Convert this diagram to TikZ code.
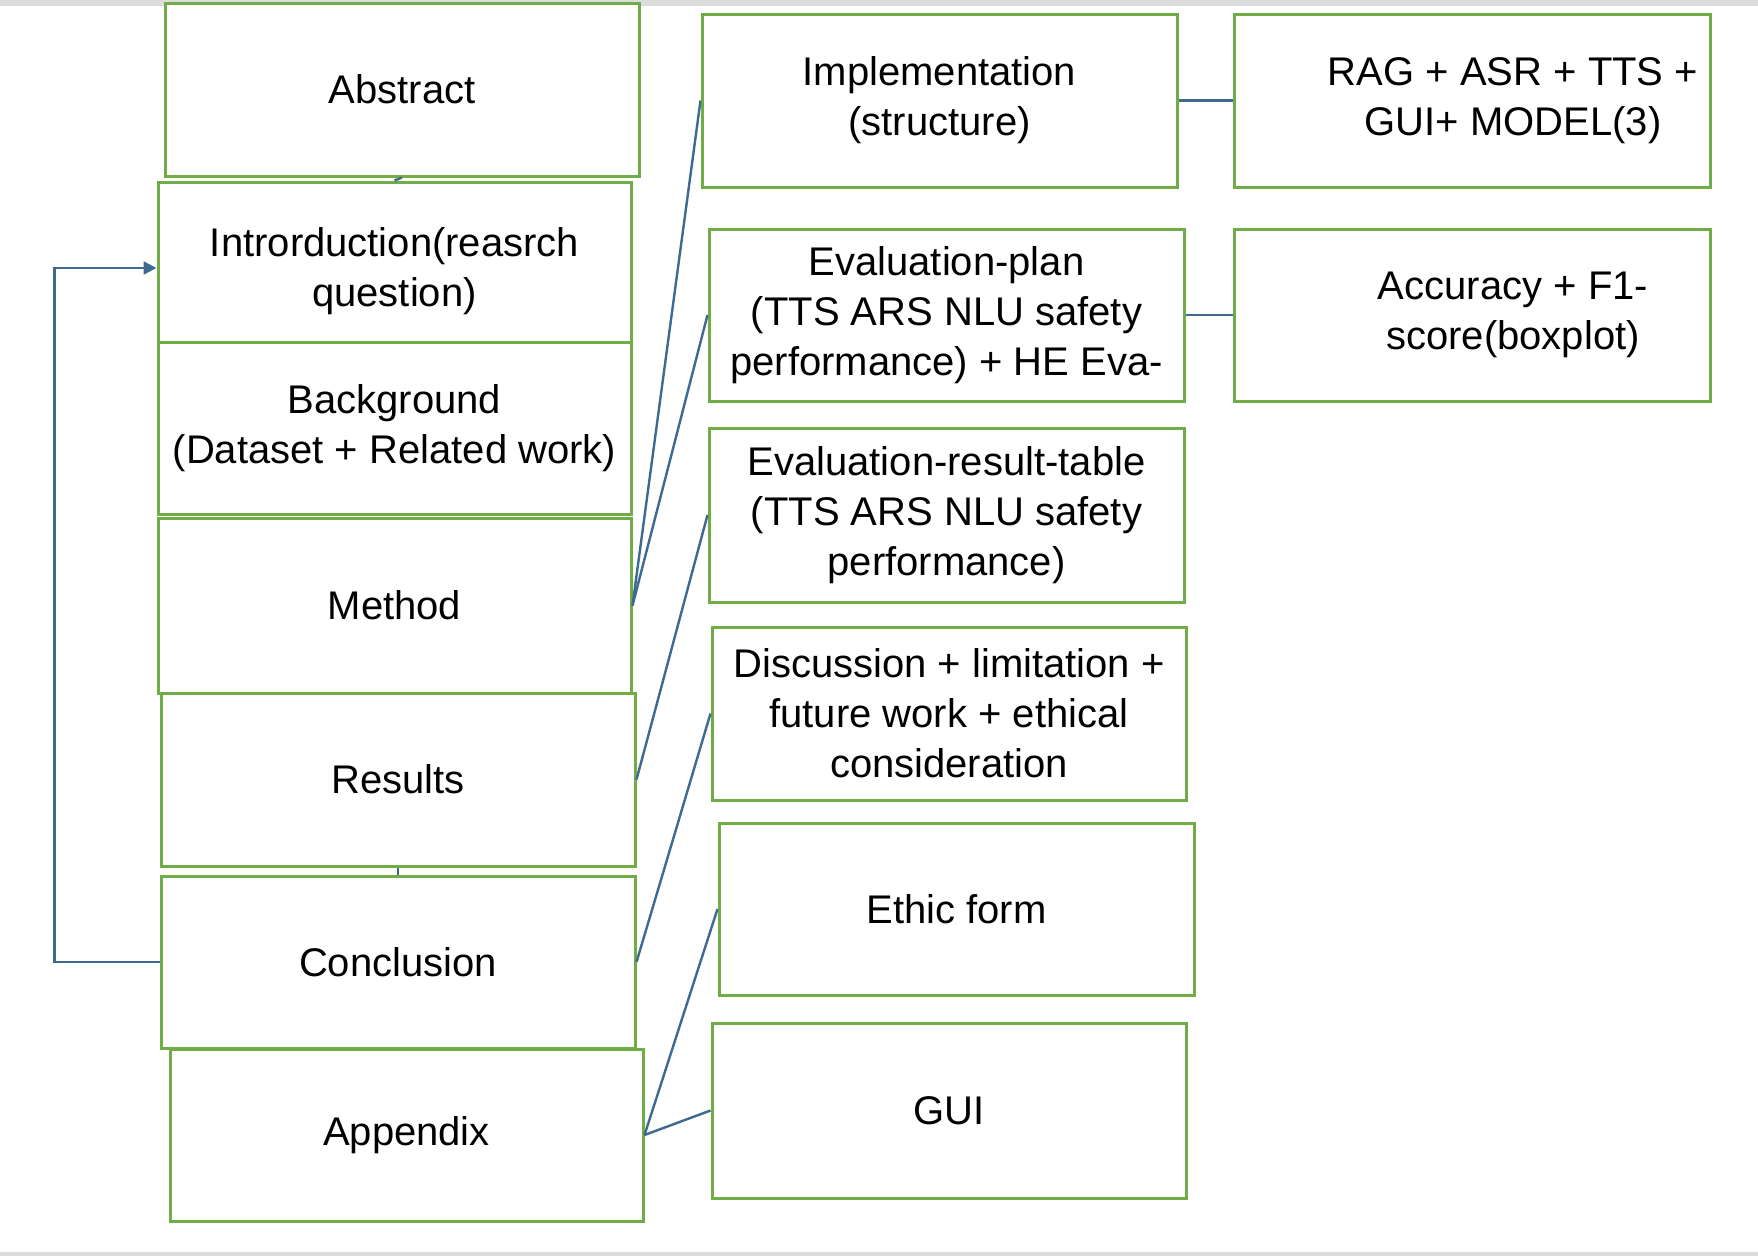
\documentclass[tikz,border=0pt]{standalone}
\usepackage{fontspec}
\setmainfont{Liberation Sans}
\usetikzlibrary{arrows.meta}
\definecolor{boxgreen}{HTML}{70AD47}
\definecolor{linkblue}{HTML}{3E6A91}
\definecolor{bandgray}{HTML}{DCDCDC}
\begin{document}
\begin{tikzpicture}[x=1pt,y=-1pt,
  txt/.style={font=\fontsize{40}{50}\selectfont, align=center},
  box/.style={draw=boxgreen, line width=3pt, fill=white, inner sep=0pt, txt},
  link/.style={draw=linkblue, line width=2.4pt}]
\useasboundingbox (0,0) rectangle (1758,1256);
\fill[white] (0,0) rectangle (1758,1256);
\fill[bandgray] (0,0) rectangle (1758,6);
\fill[bandgray] (0,1252) rectangle (1758,1256);

% left column
\node[box, minimum width=474pt, minimum height=173pt] (abs)   at (402,89.5)   {Abstract};
\node[box, minimum width=473pt, minimum height=160pt,
      label={[txt, yshift=-9pt]center:{Introrduction(reasrch\\question)}}] (intro) at (394.5,262) {};
\node[box, minimum width=473pt, minimum height=172pt] (bg)    at (394.5,428)  {Background\\(Dataset + Related work)};
\node[box, minimum width=473pt, minimum height=175pt] (meth)  at (394.5,605.5){Method};
\node[box, minimum width=474pt, minimum height=173pt] (res)   at (398,779.5)  {Results};
\node[box, minimum width=474pt, minimum height=172pt] (concl) at (398,962)    {Conclusion};
\node[box, minimum width=473pt, minimum height=172pt] (app)   at (406.5,1135) {Appendix};

% middle column
\node[box, minimum width=475pt, minimum height=173pt] (impl) at (939.5,100.5) {Implementation\\(structure)};
\node[box, minimum width=475pt, minimum height=172pt] (evp)  at (946.5,315)   {Evaluation-plan\\(TTS ARS NLU safety\\performance) + HE Eva-};
\node[box, minimum width=475pt, minimum height=174pt] (evr)  at (946.5,515)   {Evaluation-result-table\\(TTS ARS NLU safety\\performance)};
\node[box, minimum width=474pt, minimum height=173pt] (disc) at (949,713.5)   {Discussion + limitation +\\future work + ethical\\consideration};
\node[box, minimum width=475pt, minimum height=172pt] (eth)  at (956.5,909)   {Ethic form};
\node[box, minimum width=474pt, minimum height=175pt] (gui)  at (949,1110.5)  {GUI};

% right column
\node[box, minimum width=476pt, minimum height=173pt,
      label={[txt, xshift=41pt]center:{RAG + ASR + TTS +\\GUI+ MODEL(3)}}] (rag) at (1472,100.5) {};
\node[box, minimum width=476pt, minimum height=172pt,
      label={[txt, xshift=41pt]center:{Accuracy + F1-\\score(boxplot)}}] (acc) at (1472,315) {};

% connectors
\draw[link] (abs.south) -- (intro.north);
\draw[link] (res.south) -- (concl.north);
\draw[link] (meth.east) -- (impl.west);
\draw[link] (meth.east) -- (evp.west);
\draw[link] (res.east) -- (evr.west);
\draw[link] (concl.east) -- (disc.west);
\draw[link] (app.east) -- (eth.west);
\draw[link] (app.east) -- (gui.west);
\draw[link] (impl.east) -- (rag.west);
\draw[link] (evp.east) -- (acc.west);
\coordinate (loop) at (54.5,962);
\draw[link, -{Triangle[length=13pt,width=13pt]}] (concl.west) -- (loop) |- ([yshift=-6pt]intro.west);
\end{tikzpicture}
\end{document}
